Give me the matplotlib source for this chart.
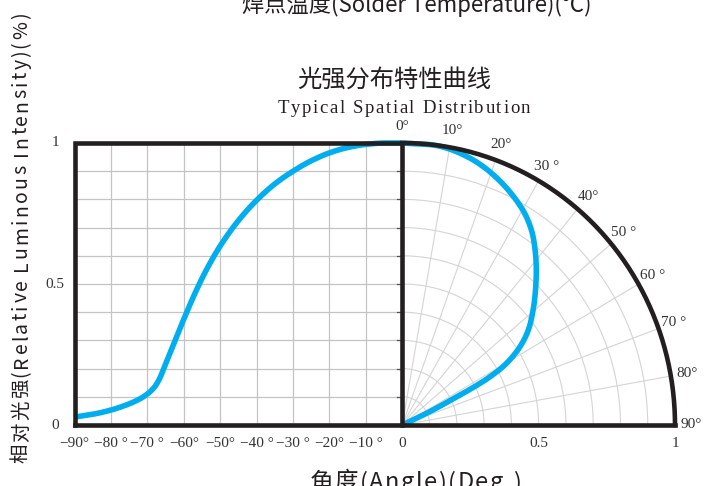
import numpy as np
import matplotlib.pyplot as plt
from matplotlib.font_manager import FontProperties
from matplotlib.textpath import TextToPath

plt.rcParams['font.family'] = ['Noto Sans CJK SC', 'DejaVu Sans']

# left panel: angle (deg) -> relative intensity (kink at -65.5)
left_angle = [-90, -85, -80, -75, -72, -70, -68, -66.5, -65.5,
              -63, -60, -57, -54, -50, -45, -40, -35, -30, -25, -20, -15, -10, -5, 0]
left_value = [0.028, 0.038, 0.053, 0.075, 0.093, 0.11, 0.135, 0.168, 0.2,
              0.28, 0.375, 0.465, 0.545, 0.635, 0.725, 0.797, 0.855, 0.9, 0.937,
              0.965, 0.984, 0.995, 1.0, 1.0]
KINK = 8  # index of -65.5

# right panel: polar curve, angle from vertical (deg) -> relative intensity
polar_angle = [0, 8, 15.5, 22.7, 30, 34.4, 37.9, 41.6, 45.5, 49.6, 53.9, 57.2,
               60.2, 62.0, 62.9, 63.4, 64.8, 66]
polar_value = [1.0, 0.998, 0.975, 0.935, 0.882, 0.838, 0.792, 0.740, 0.685, 0.630,
               0.572, 0.514, 0.441, 0.364, 0.292, 0.223, 0.112, 0.0]

x_ticks = [-90, -80, -70, -60, -50, -40, -30, -20, -10, 0]
x_tick_labels = ['−90°', '−80 °', '−70 °', '−60°', '−50°', '−40 °', '−30 °', '−20°', '−10 °', '0']
r_ticks = [0.5, 1]
r_tick_labels = ['0.5', '1']
y_ticks = [0, 0.5, 1]
y_tick_labels = ['0', '0.5', '1']
polar_ticks = [0, 10, 20, 30, 40, 50, 60, 70, 80, 90]
polar_tick_labels = ['0°', '10°', '20°', '30 °', '40°', '50 °', '60 °', '70 °', '80°', '90°']

BLUE = '#00aeef'
BLACK = '#231f20'
GRID = '#c4c4c4'
PGRID = '#d4d4d4'
SERIF = ['Liberation Serif', 'DejaVu Serif']

# pixel layout of the picture
W, H = 710, 486
X0, Y0 = 402.3, 425.0      # polar centre / angle 0
XU, YU = 272.7, 282.0      # pixels per unit
LW = (402.3 - 74.5) / XU   # width of left panel in data units


def px(x, y):
    return (x - X0) / XU, (Y0 - y) / YU


def ang(a):
    return np.asarray(a) / 90.0 * LW


def pchip(x, y, xn):
    x = np.asarray(x, float)
    y = np.asarray(y, float)
    h = np.diff(x)
    d = np.diff(y) / h
    m = np.zeros_like(y)
    for k in range(1, len(x) - 1):
        if d[k - 1] * d[k] > 0:
            w1 = 2 * h[k] + h[k - 1]
            w2 = h[k] + 2 * h[k - 1]
            m[k] = (w1 + w2) / (w1 / d[k - 1] + w2 / d[k])
    m[0], m[-1] = d[0], d[-1]
    i = np.clip(np.searchsorted(x, xn) - 1, 0, len(h) - 1)
    t = (xn - x[i]) / h[i]
    return ((2 * t**3 - 3 * t**2 + 1) * y[i] + (t**3 - 2 * t**2 + t) * h[i] * m[i]
            + (-2 * t**3 + 3 * t**2) * y[i + 1] + (t**3 - t**2) * h[i] * m[i + 1])


def catmull(xs, ys, n=30, alpha=0.5):
    # centripetal catmull-rom through the points
    P = np.column_stack([xs, ys]).astype(float)
    P = np.vstack([2 * P[0] - P[1], P, 2 * P[-1] - P[-2]])
    out = []
    for i in range(1, len(P) - 2):
        p0, p1, p2, p3 = P[i - 1:i + 3]
        t0 = 0.0
        t1 = t0 + np.linalg.norm(p1 - p0) ** alpha
        t2 = t1 + np.linalg.norm(p2 - p1) ** alpha
        t3 = t2 + np.linalg.norm(p3 - p2) ** alpha
        t = np.linspace(t1, t2, n, endpoint=False)[:, None]
        a1 = (t1 - t) / (t1 - t0) * p0 + (t - t0) / (t1 - t0) * p1
        a2 = (t2 - t) / (t2 - t1) * p1 + (t - t1) / (t2 - t1) * p2
        a3 = (t3 - t) / (t3 - t2) * p2 + (t - t2) / (t3 - t2) * p3
        b1 = (t2 - t) / (t2 - t0) * a1 + (t - t0) / (t2 - t0) * a2
        b2 = (t3 - t) / (t3 - t1) * a2 + (t - t1) / (t3 - t1) * a3
        out.append((t2 - t) / (t2 - t1) * b1 + (t - t1) / (t2 - t1) * b2)
    out.append(P[-2][None])
    out = np.vstack(out)
    return out[:, 0], out[:, 1]


t2p = TextToPath()


def spaced(ax, xc, yc, s, size, family, track, vertical=False, color='#231f20'):
    # text with extra letter spacing, centred at pixel (xc, yc)
    fp = FontProperties(family=family, size=size)
    widths = [t2p.get_text_width_height_descent(c, fp, ismath=False)[0] * 100 / 72 for c in s]
    total = sum(widths) + track * (len(s) - 1)
    pos = -total / 2
    for c, w in zip(s, widths):
        if vertical:
            xy = px(xc + size * 100 / 72 * 0.35, yc - pos)
            ax.text(*xy, c, rotation=90, rotation_mode='anchor', ha='left', va='baseline',
                    fontproperties=fp, color=color)
        else:
            xy = px(xc + pos, yc + size * 100 / 72 * 0.35)
            ax.text(*xy, c, ha='left', va='baseline', fontproperties=fp, color=color)
        pos += w + track


fig = plt.figure(figsize=(W / 100, H / 100), dpi=100)
ax = fig.add_axes([0, 0, 1, 1])
ax.set_xlim(-X0 / XU, (W - X0) / XU)
ax.set_ylim(-(H - Y0) / YU, Y0 / YU)
ax.axis('off')

# left grid
for a in range(-80, 0, 10):
    ax.plot([ang(a)] * 2, [0, 1], color=GRID, lw=0.9, zorder=1)
for v in np.arange(0.1, 1.0, 0.1):
    ax.plot([ang(-90), 0], [v, v], color=GRID, lw=0.9, zorder=1)
    ax.plot([-0.018, 0], [v, v], color='#555555', lw=0.9, zorder=2)

# polar grid
t = np.radians(np.linspace(0, 90, 200))
for r in np.arange(0.1, 1.0, 0.1):
    ax.plot(r * np.sin(t), r * np.cos(t), color=PGRID, lw=0.8, zorder=1)
for a in range(10, 90, 10):
    ax.plot([0, np.sin(np.radians(a))], [0, np.cos(np.radians(a))],
            color=PGRID, lw=0.8, zorder=1)

# curves
la1 = np.linspace(left_angle[0], left_angle[KINK], 150)
la2 = np.linspace(left_angle[KINK], left_angle[-1], 350)
lv1 = pchip(left_angle[:KINK + 1], left_value[:KINK + 1], la1)
lv2 = pchip(left_angle[KINK:], left_value[KINK:], la2)
ax.plot(ang(np.r_[la1, la2]), np.r_[lv1, lv2], color=BLUE, lw=4,
        solid_capstyle='butt', zorder=3)
pa = np.radians(polar_angle)
pv = np.asarray(polar_value)
cx, cy = catmull(pv * np.sin(pa), pv * np.cos(pa))
ax.plot(cx, cy, color=BLUE, lw=4, solid_capstyle='butt', zorder=3)

# frame
ax.plot([ang(-90), ang(-90), 0, 0], [0, 1, 1, 0], color=BLACK, lw=3.3,
        solid_joinstyle='miter', zorder=4)
ax.plot([ang(-90), 1], [0, 0], color=BLACK, lw=3.3, zorder=4)
ax.plot(np.sin(t), np.cos(t), color=BLACK, lw=3.3, zorder=4)

# tick labels
num = dict(family=SERIF, fontsize=11, color='#333333')
for v, s in zip(x_ticks, x_tick_labels):
    ax.text(ang(v), px(0, 443)[1], s, ha='center', va='center', **num)
for v, s in zip(r_ticks, r_tick_labels):
    ax.text(v, px(0, 443)[1], s, ha='center', va='center', **num)
for v, s in zip(y_ticks, y_tick_labels):
    ax.text(px(55, 0)[0], v, s, ha='center', va='center', **num)
for a, s in zip(polar_ticks, polar_tick_labels):
    ar = np.radians(a)
    ax.text(1.06 * np.sin(ar), 1.06 * np.cos(ar), s, ha='center', va='center', **num)

# titles and axis labels
ax.text(*px(417, 12), '焊点温度(Solder Temperature)(℃)', ha='center', va='baseline',
        fontsize=16, color=BLACK)
ax.text(*px(394, 80), '光强分布特性曲线', ha='center', va='center', fontsize=17.5, color=BLACK)
spaced(ax, 404, 106, 'Typical Spatial Distribution', 13.5, SERIF, 1.6)
spaced(ax, 20, 238, '相对光强(Relative Luminous Intensity)(%)', 14,
       ['Noto Sans CJK SC', 'DejaVu Sans'], 2.2, vertical=True)
spaced(ax, 415, 481, '角度(Angle)(Deg.)', 17, ['Noto Sans CJK SC', 'DejaVu Sans'], 1.5)

fig.savefig('out.png', dpi=100)
